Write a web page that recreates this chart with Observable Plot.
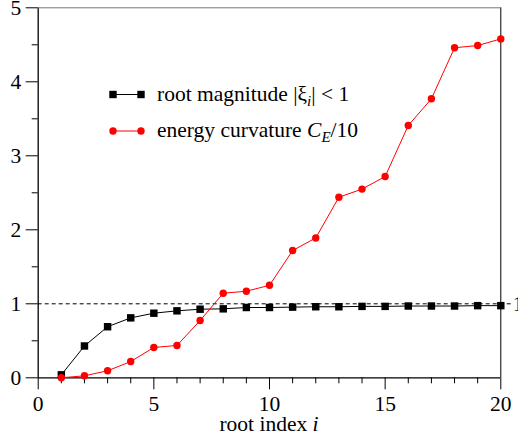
<!DOCTYPE html>
<html>
<head>
<meta charset="utf-8">
<script src="https://cdn.jsdelivr.net/npm/d3@7"></script>
<script src="https://cdn.jsdelivr.net/npm/@observablehq/plot@0.6"></script>
<style>
  html, body { margin: 0; padding: 0; background: white; }
  #chart { width: 518px; height: 439px; }
  #chart svg, #chart svg text { font-family: "Liberation Serif", "Times New Roman", Times, serif !important; }
</style>
</head>
<body>
<div id="chart"></div>
<script>
// ---- data ----
const rootIndex = [1,2,3,4,5,6,7,8,9,10,11,12,13,14,15,16,17,18,19,20];
const rootMagnitude = [0.04,0.43,0.69,0.81,0.873,0.905,0.927,0.932,0.95,0.95,0.955,0.96,0.96,0.965,0.965,0.97,0.97,0.97,0.975,0.975];
const energyCurvature = [0.0,0.027,0.095,0.22,0.41,0.437,0.774,1.143,1.17,1.25,1.72,1.89,2.44,2.55,2.72,3.41,3.77,4.46,4.49,4.58];
const xMajorTicks = [0,5,10,15,20];
const xMinorTicks = [1,2,3,4,6,7,8,9,11,12,13,14,16,17,18,19];
const yMajorTicks = [0,1,2,3,4,5];
const yMinorTicks = [0.5,1.5,2.5,3.5,4.5];
const referenceLevel = [1];

const magData = rootIndex.map((x, k) => ({x, y: rootMagnitude[k]}));
const curvData = rootIndex.map((x, k) => ({x, y: energyCurvature[k]}));

const FONT = "Liberation Serif, Times New Roman, Times, serif";
const FS = 21.5;
const RED = "#ff0000";

const plot = Plot.plot({
  width: 518,
  height: 439,
  marginLeft: 37.7,
  marginRight: 17.7,
  marginTop: 7.3,
  marginBottom: 61.7,
  x: {domain: [0, 20]},
  y: {domain: [0, 5]},
  style: {fontFamily: FONT, fontSize: FS + "px", background: "white", color: "black"},
  marks: [
    Plot.axisX({ticks: xMajorTicks, tickSize: 12, tickPadding: 6, tickFormat: d => String(d), label: null, fontSize: FS}),
    Plot.axisX({ticks: xMinorTicks, tickSize: 6, text: null, label: null}),
    Plot.axisY({ticks: yMajorTicks, tickSize: 12, tickPadding: 5, tickFormat: d => String(d), label: null, fontSize: FS}),
    Plot.axisY({ticks: yMinorTicks, tickSize: 6, text: null, label: null}),
    Plot.ruleY(referenceLevel, {stroke: "black", strokeDasharray: "4,3", insetRight: -11}),
    Plot.text(referenceLevel, {y: d => d, frameAnchor: "right", dx: 12, textAnchor: "start", text: d => String(d), fontSize: FS}),
    Plot.ruleX([0], {stroke: "black", strokeWidth: 1.3}),
    Plot.ruleY([0], {stroke: "black", strokeWidth: 1.3}),
    Plot.ruleX([20], {stroke: "black"}),
    Plot.ruleY([5], {stroke: "#777"}),
    Plot.line(magData, {x: "x", y: "y", stroke: "black", strokeWidth: 1}),
    Plot.line(curvData, {x: "x", y: "y", stroke: RED, strokeWidth: 1}),
    Plot.dot(magData, {x: "x", y: "y", symbol: "square", r: 4.2, fill: "black", stroke: "none"}),
    Plot.dot(curvData, {x: "x", y: "y", r: 3.7, fill: RED, stroke: "none"})
  ]
});

document.getElementById("chart").appendChild(plot);

// ---- axis label and legend (text with italics / subscripts) ----
const svg = d3.select(plot);
const xAxisLabel = svg.append("text")
  .attr("x", 269).attr("y", 431)
  .attr("text-anchor", "middle")
  .attr("font-family", FONT).attr("font-size", FS).attr("fill", "black");
xAxisLabel.append("tspan").text("root index ");
xAxisLabel.append("tspan").attr("font-style", "italic").text("i");

const legend = svg.append("g")
  .attr("font-family", FONT).attr("font-size", FS).attr("fill", "black")
  .attr("text-anchor", "start");
const legendItems = [
  {color: "black", symbol: "square", y: 94.5},
  {color: RED, symbol: "circle", y: 131}
];
legendItems.forEach(item => {
  legend.append("line")
    .attr("x1", 113).attr("x2", 141).attr("y1", item.y).attr("y2", item.y)
    .attr("stroke", item.color).attr("stroke-width", 1);
  [113, 141].forEach(cx => {
    if (item.symbol === "square") {
      legend.append("rect").attr("x", cx - 3.7).attr("y", item.y - 3.7)
        .attr("width", 7.4).attr("height", 7.4).attr("fill", item.color);
    } else {
      legend.append("circle").attr("cx", cx).attr("cy", item.y).attr("r", 3.7).attr("fill", item.color);
    }
  });
});
const t1 = legend.append("text").attr("x", 157).attr("y", 101).attr("text-anchor", "start");
t1.append("tspan").text("root magnitude |ξ");
t1.append("tspan").attr("font-style", "italic").attr("font-size", 15).attr("dy", 5).text("i");
t1.append("tspan").attr("dy", -5).text("| < 1");
const t2 = legend.append("text").attr("x", 157).attr("y", 137).attr("text-anchor", "start");
t2.append("tspan").text("energy curvature ");
t2.append("tspan").attr("font-style", "italic").text("C");
t2.append("tspan").attr("font-style", "italic").attr("font-size", 15).attr("dy", 5).text("E");
t2.append("tspan").attr("dy", -5).text("/10");
</script>
</body>
</html>
